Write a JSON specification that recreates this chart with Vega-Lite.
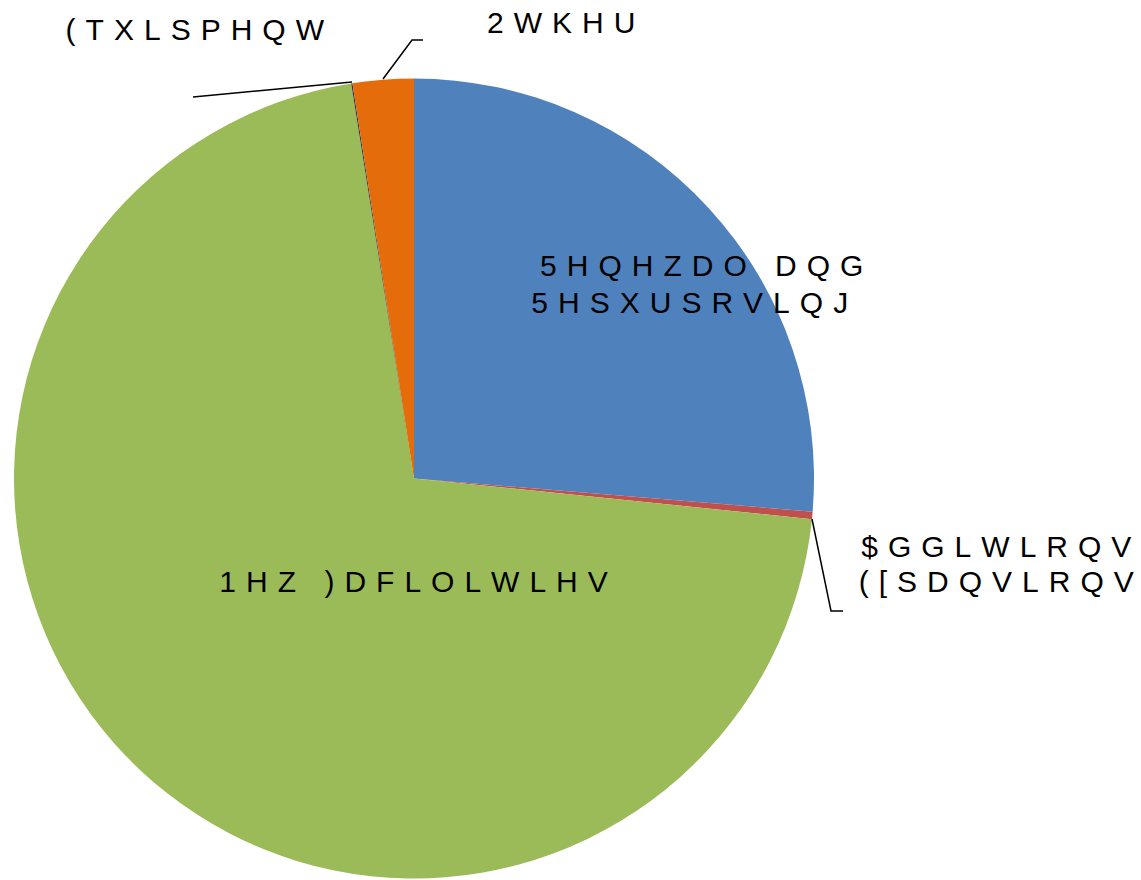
{
  "$schema": "https://vega.github.io/schema/vega-lite/v6.json",
  "width": 828,
  "height": 801,
  "autosize": {"type": "none"},
  "padding": {"left": 0, "top": 78, "right": 313, "bottom": 1},
  "background": "white",
  "config": {
    "view": {"stroke": null},
    "text": {"font": "Liberation Sans", "fontSize": 30, "color": "#000000"}
  },
  "data": {
    "values": [
      {"idx": 1, "category": "5HQHZDO DQG 5HSXUSRVLQJ", "label": "5HQHZDO DQG", "label2": "5HSXUSRVLQJ", "value": 26.32},
      {"idx": 2, "category": "$GGLWLRQV ([SDQVLRQV", "label": "$GGLWLRQV\n([SDQVLRQV", "label2": "", "value": 0.3},
      {"idx": 3, "category": "1HZ )DFLOLWLHV", "label": "1HZ )DFLOLWLHV", "label2": "", "value": 70.87},
      {"idx": 4, "category": "(TXLSPHQW", "label": "(TXLSPHQW", "label2": "", "value": 0.05},
      {"idx": 5, "category": "2WKHU", "label": "2WKHU", "label2": "", "value": 2.46}
    ]
  },
  "layer": [
    {
      "mark": {"type": "arc", "radius": 400},
      "encoding": {
        "theta": {"field": "value", "type": "quantitative", "stack": true},
        "order": {"field": "idx", "type": "quantitative"},
        "color": {
          "field": "category",
          "type": "nominal",
          "scale": {
            "domain": ["5HQHZDO DQG 5HSXUSRVLQJ", "$GGLWLRQV ([SDQVLRQV", "1HZ )DFLOLWLHV", "(TXLSPHQW", "2WKHU"],
            "range": ["#4F81BD", "#C0504D", "#9BBB59", "#333333", "#E46C0A"]
          },
          "legend": null
        }
      }
    },
    {
      "data": {
        "values": [
          {"leader": "a", "seq": 1, "lx": 0.995, "ly": -0.10125},
          {"leader": "a", "seq": 2, "lx": 1.0425, "ly": -0.33125},
          {"leader": "a", "seq": 3, "lx": 1.0725, "ly": -0.33125},
          {"leader": "e", "seq": 1, "lx": -0.155, "ly": 0.99125},
          {"leader": "e", "seq": 2, "lx": -0.5525, "ly": 0.95375},
          {"leader": "o", "seq": 1, "lx": -0.0775, "ly": 0.99875},
          {"leader": "o", "seq": 2, "lx": -0.005, "ly": 1.09625},
          {"leader": "o", "seq": 3, "lx": 0.0225, "ly": 1.09625}
        ]
      },
      "mark": {"type": "line", "color": "#000000", "strokeWidth": 1.5},
      "encoding": {
        "x": {"field": "lx", "type": "quantitative", "scale": {"domain": [-1.035, 1.035], "nice": false, "zero": false}, "axis": null},
        "y": {"field": "ly", "type": "quantitative", "scale": {"domain": [-1.00125, 1.00125], "nice": false, "zero": false}, "axis": null},
        "detail": {"field": "leader", "type": "nominal"},
        "order": {"field": "seq", "type": "quantitative"}
      }
    },
    {
      "transform": [{"calculate": "replace(datum.label, regexp('(.)(?=.)', 'g'), '$1\u2004')", "as": "spaced"}],
      "mark": {"type": "text", "radius": 300, "dx": 67, "dy": 1, "align": "center", "baseline": "alphabetic"},
      "encoding": {
        "theta": {"field": "value", "type": "quantitative", "stack": true},
        "order": {"field": "idx", "type": "quantitative"},
        "text": {"condition": {"test": "datum.idx == 1", "field": "spaced"}, "value": ""}
      }
    },
    {
      "transform": [{"calculate": "replace(datum.label2, regexp('(.)(?=.)', 'g'), '$1\u2004')", "as": "spaced"}],
      "mark": {"type": "text", "radius": 300, "dx": 55, "dy": 38, "align": "center", "baseline": "alphabetic"},
      "encoding": {
        "theta": {"field": "value", "type": "quantitative", "stack": true},
        "order": {"field": "idx", "type": "quantitative"},
        "text": {"condition": {"test": "datum.idx == 1", "field": "spaced"}, "value": ""}
      }
    },
    {
      "transform": [{"calculate": "replace(datum.label, regexp('(.)(?=.)', 'g'), '$1\u2004')", "as": "spaced"}],
      "mark": {"type": "text", "radius": 400, "dx": 184, "dy": 42, "align": "center", "baseline": "alphabetic", "lineBreak": "\n", "lineHeight": 35},
      "encoding": {
        "theta": {"field": "value", "type": "quantitative", "stack": true},
        "order": {"field": "idx", "type": "quantitative"},
        "text": {"condition": {"test": "datum.idx == 2", "field": "spaced"}, "value": ""}
      }
    },
    {
      "transform": [{"calculate": "replace(datum.label, regexp('(.)(?=.)', 'g'), '$1\u2004')", "as": "spaced"}],
      "mark": {"type": "text", "radius": 200, "dx": 137, "dy": -32, "align": "center", "baseline": "alphabetic"},
      "encoding": {
        "theta": {"field": "value", "type": "quantitative", "stack": true},
        "order": {"field": "idx", "type": "quantitative"},
        "text": {"condition": {"test": "datum.idx == 3", "field": "spaced"}, "value": ""}
      }
    },
    {
      "transform": [{"calculate": "replace(datum.label, regexp('(.)(?=.)', 'g'), '$1\u2004')", "as": "spaced"}],
      "mark": {"type": "text", "radius": 400, "dx": -157, "dy": -43, "align": "center", "baseline": "alphabetic"},
      "encoding": {
        "theta": {"field": "value", "type": "quantitative", "stack": true},
        "order": {"field": "idx", "type": "quantitative"},
        "text": {"condition": {"test": "datum.idx == 4", "field": "spaced"}, "value": ""}
      }
    },
    {
      "transform": [{"calculate": "replace(datum.label, regexp('(.)(?=.)', 'g'), '$1\u2004')", "as": "spaced"}],
      "mark": {"type": "text", "radius": 400, "dx": 178, "dy": -47, "align": "center", "baseline": "alphabetic"},
      "encoding": {
        "theta": {"field": "value", "type": "quantitative", "stack": true},
        "order": {"field": "idx", "type": "quantitative"},
        "text": {"condition": {"test": "datum.idx == 5", "field": "spaced"}, "value": ""}
      }
    }
  ]
}
